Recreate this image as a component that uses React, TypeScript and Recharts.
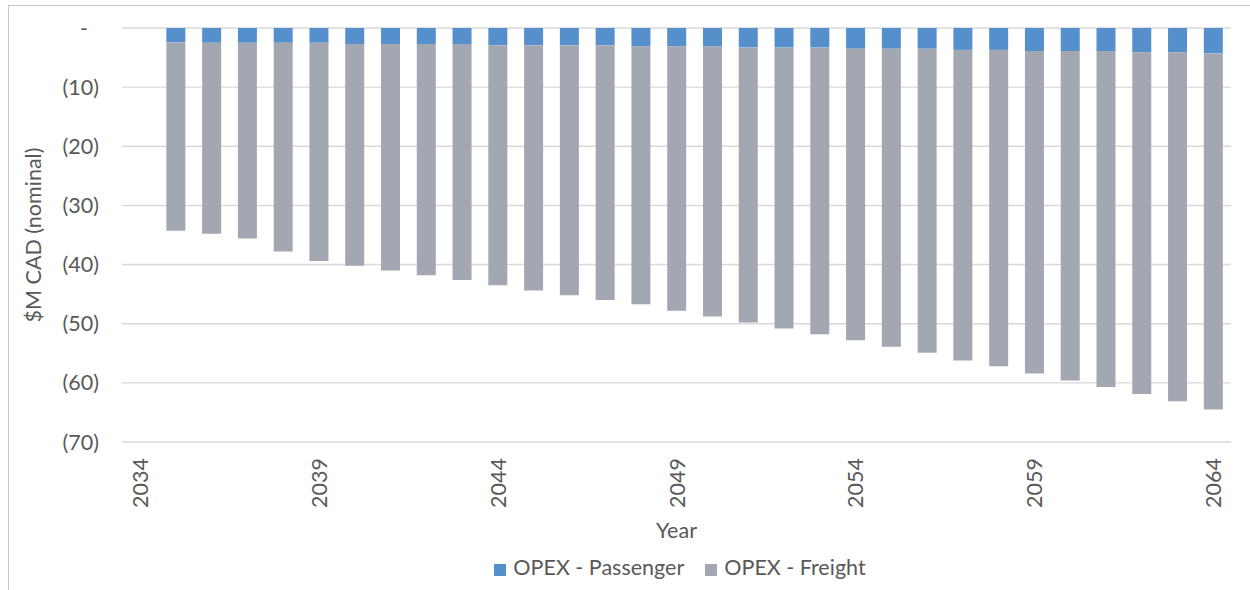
import React from "react";
import { BarChart, Bar, XAxis, YAxis, CartesianGrid, Legend } from "recharts";

const years: string[] = [
  "2034", "2035", "2036", "2037", "2038", "2039", "2040", "2041", "2042", "2043",
  "2044", "2045", "2046", "2047", "2048", "2049", "2050", "2051", "2052", "2053",
  "2054", "2055", "2056", "2057", "2058", "2059", "2060", "2061", "2062", "2063", "2064",
];

const passenger: number[] = [
  0, -2.4, -2.5, -2.5, -2.5, -2.5, -2.7, -2.7, -2.7, -2.7,
  -2.9, -2.9, -2.9, -2.9, -3.1, -3.1, -3.1, -3.3, -3.3, -3.3,
  -3.5, -3.5, -3.5, -3.7, -3.7, -3.9, -3.9, -3.9, -4.1, -4.1, -4.3,
];

const freight: number[] = [
  0, -31.9, -32.3, -33.1, -35.3, -36.9, -37.5, -38.3, -39.1, -39.9,
  -40.6, -41.5, -42.3, -43.1, -43.6, -44.7, -45.7, -46.5, -47.5, -48.5,
  -49.3, -50.4, -51.4, -52.5, -53.5, -54.5, -55.7, -56.8, -57.8, -59.0, -60.2,
];

const yTicks: number[] = [0, -10, -20, -30, -40, -50, -60, -70];

const data = years.map((y, i) => ({
  year: y,
  passenger: passenger[i],
  freight: freight[i],
}));

const FONT = "Lato, 'Open Sans', sans-serif";
const TEXT = "#595959";
const FS = 21.5;

const fmtY = (v: number) => (v === 0 ? "-\u00A0\u00A0" : `(${Math.abs(v)})`);

const XTick = (props: any) => {
  const { x, y, payload } = props;
  return (
    <g transform={`translate(${x},${y})`}>
      <text
        transform="rotate(-90)"
        textAnchor="end"
        dominantBaseline="central"
        fill={TEXT}
        fontSize={FS}
        fontFamily={FONT}
      >
        {payload.value}
      </text>
    </g>
  );
};

export default function App() {
  return (
    <div style={{ position: "absolute", left: 0, top: 0, width: 1250, height: 590, background: "#fff", overflow: "hidden" }}>
      <div
        style={{
          position: "absolute",
          left: 8,
          top: 5,
          width: 1260,
          height: 600,
          border: "1.5px solid #c8c8c8",
        }}
      />
      <div style={{ position: "absolute", left: 0, top: 0 }}>
        <BarChart
          width={1250}
          height={590}
          data={data}
          margin={{ top: 28, right: 19, left: 0, bottom: 0 }}
          barCategoryGap="24%"
          stackOffset="sign"
        >
          <CartesianGrid vertical={false} stroke="#d9d9d9" strokeWidth={1.4} />
          <XAxis
            dataKey="year"
            interval={4}
            axisLine={false}
            tickLine={false}
            tickSize={0}
            tickMargin={16}
            height={122}
            tick={<XTick />}
            label={{
              value: "Year",
              position: "insideBottom",
              offset: 26,
              fill: TEXT,
              fontSize: FS,
              fontFamily: FONT,
            }}
          />
          <YAxis
            domain={[-70, 0]}
            ticks={yTicks}
            interval={0}
            tickFormatter={fmtY}
            axisLine={false}
            tickLine={false}
            tickSize={0}
            tickMargin={23}
            width={122}
            tick={{ fill: TEXT, fontSize: FS, fontFamily: FONT }}
            label={{
              value: "$M CAD (nominal)",
              angle: -90,
              position: "insideLeft",
              offset: 33,
              fill: TEXT,
              fontSize: FS,
              fontFamily: FONT,
              style: { textAnchor: "middle" },
            }}
          />
          <Legend
            verticalAlign="bottom"
            align="center"
            iconType="square"
            iconSize={12}
            itemSorter={null as any}
            wrapperStyle={{ left: 136, width: 1109, bottom: 10, fontFamily: FONT, fontSize: FS }}
            formatter={(value: string) => (
              <span style={{ color: TEXT, marginLeft: 3, marginRight: 11 }}>{value}</span>
            )}
          />
          <Bar dataKey="passenger" name="OPEX - Passenger" stackId="a" fill="#5590CC" isAnimationActive={false} />
          <Bar dataKey="freight" name="OPEX - Freight" stackId="a" fill="#A2A7B1" isAnimationActive={false} />
        </BarChart>
      </div>
    </div>
  );
}
